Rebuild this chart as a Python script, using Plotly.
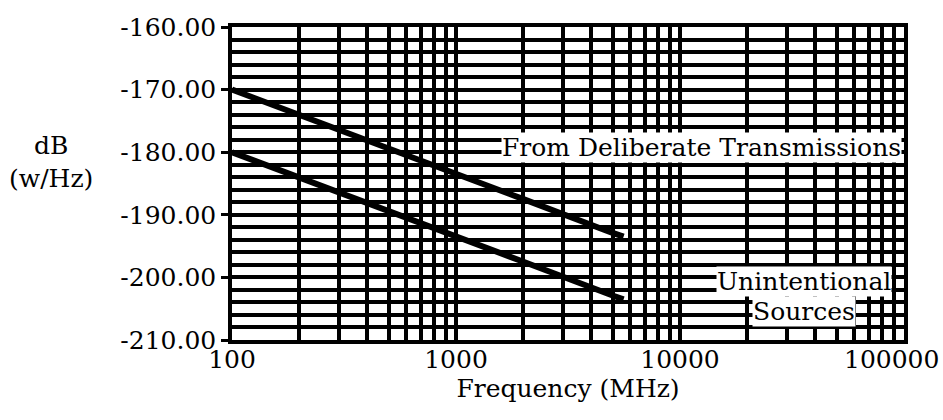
import plotly.graph_objects as go

# ---- data ----
freq_deliberate = [100, 200, 500, 1000, 2000, 5000, 5600]
db_deliberate = [-170.0, -174.0, -179.3, -183.5, -187.5, -192.9, -193.5]

freq_unintentional = [100, 200, 500, 1000, 2000, 5000, 5600]
db_unintentional = [-180.0, -184.0, -189.3, -193.5, -197.5, -202.9, -203.5]

x_major = [100, 1000, 10000, 100000]
x_major_text = ["100", "1000", "10000", "100000"]
x_minor = [m * d for d in (100, 1000, 10000) for m in range(2, 10)]

y_major = [-210, -200, -190, -180, -170, -160]
y_major_text = ["-210.00", "-200.00", "-190.00", "-180.00", "-170.00", "-160.00"]
y_minor = list(range(-208, -160, 2))

FONT = "DejaVu Serif"
FS = 25
GW = 3.5

fig = go.Figure()
fig.add_trace(go.Scatter(x=freq_deliberate, y=db_deliberate, mode="lines",
                         line=dict(color="black", width=6), showlegend=False))
fig.add_trace(go.Scatter(x=freq_unintentional, y=db_unintentional, mode="lines",
                         line=dict(color="black", width=6), showlegend=False))

# last x tick label drawn separately so it stays inside the page (as in the reference)
axis_text = x_major_text[:-1] + [""]

fig.update_xaxes(type="log", range=[2, 5], automargin=False,
                 tickvals=x_major, ticktext=axis_text,
                 showgrid=True, gridcolor="black", gridwidth=GW,
                 minor=dict(tickvals=x_minor, showgrid=True, gridcolor="black", gridwidth=GW),
                 showline=True, linecolor="black", linewidth=GW, mirror=True,
                 ticks="", zeroline=False,
                 ticklabelstandoff=-6,
                 tickfont=dict(family=FONT, size=FS, color="black"),
                 title=dict(text="Frequency (MHz)", font=dict(family=FONT, size=FS, color="black"),
                            standoff=0))
fig.update_yaxes(range=[-210, -160], automargin=False,
                 tickvals=y_major, ticktext=y_major_text,
                 showgrid=True, gridcolor="black", gridwidth=GW,
                 minor=dict(tickvals=y_minor, showgrid=True, gridcolor="black", gridwidth=GW),
                 showline=True, linecolor="black", linewidth=GW, mirror=True,
                 ticks="outside", ticklen=7, tickwidth=3, tickcolor="black",
                 zeroline=False,
                 tickfont=dict(family=FONT, size=FS, color="black"))

fig.add_annotation(text=x_major_text[-1], xref="x", yref="paper",
                   x=5, y=0, xanchor="right", yanchor="middle",
                   xshift=37, yshift=-19, showarrow=False,
                   font=dict(family=FONT, size=FS, color="black"))

annots = [
    dict(text="From Deliberate Transmissions", x=4.99, y=-179.3, xanchor="right"),
    dict(text="Unintentional", x=4.945, y=-200.7, xanchor="right"),
    dict(text="Sources", x=4.785, y=-205.5, xanchor="right"),
]
for a in annots:
    fig.add_annotation(xref="x", yref="y", showarrow=False, bgcolor="white",
                       borderpad=0, yanchor="middle",
                       font=dict(family=FONT, size=FS, color="black"), **a)

fig.add_annotation(text="dB<br>(w/Hz)", xref="paper", yref="paper",
                   x=-0.27, y=0.57, xanchor="center", yanchor="middle",
                   showarrow=False, align="center",
                   font=dict(family=FONT, size=FS, color="black"))

fig.update_layout(width=943, height=420,
                  margin=dict(l=232, r=39, t=27, b=80),
                  paper_bgcolor="white", plot_bgcolor="white",
                  showlegend=False)

fig.write_html("out.html")
